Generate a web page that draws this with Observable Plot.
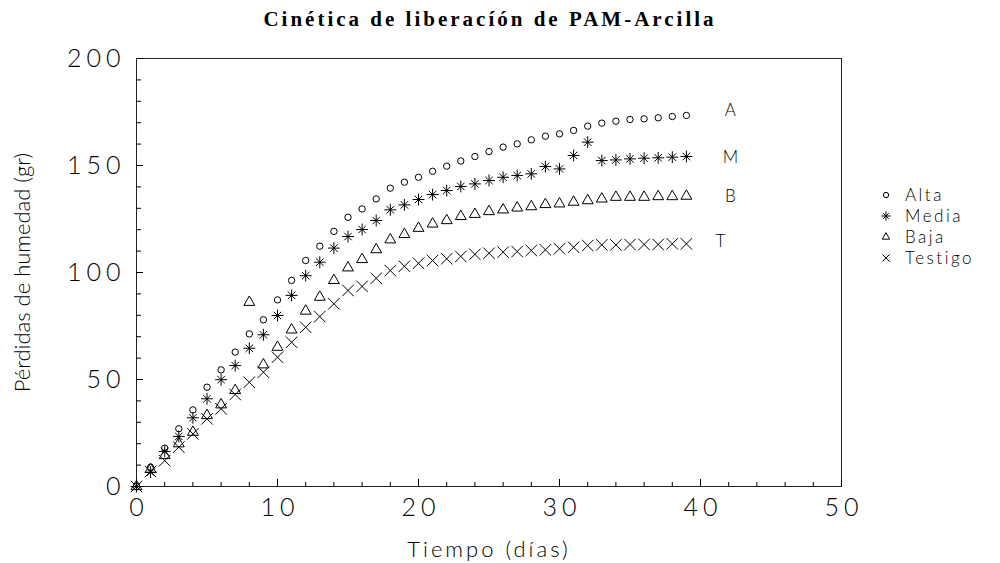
<!DOCTYPE html>
<html>
<head>
<meta charset="utf-8">
<script src="https://cdn.jsdelivr.net/npm/d3@7"></script>
<script src="https://cdn.jsdelivr.net/npm/@observablehq/plot@0.6"></script>
<style>
  body { margin: 0; background: #fff; }
  #wrap { position: relative; width: 1000px; height: 563px; overflow: hidden; }
  #title {
    position: absolute; left: 0; top: 7px; width: 980px; text-align: center;
    font: bold 21px "Liberation Serif", "Times New Roman", serif; letter-spacing: 3px; color: #000;
  }
  #legend { position: absolute; left: 876px; top: 184px; font: 300 17px Lato, sans-serif; letter-spacing: 2.5px; color: #000; }
  #legend .row { display: flex; align-items: center; height: 21px; }
  #legend svg { width: 20px; height: 14px; margin-right: 9px; overflow: visible; }
  .wide text { letter-spacing: 5px; }
  .wide2 text { letter-spacing: 3px; }
</style>
</head>
<body>
<div id="wrap">
  <div id="title"></div>
  <div id="chart"></div>
  <div id="legend"></div>
</div>
<script>
// Days of measurement
const dias = [0,1,2,3,4,5,6,7,8,9,10,11,12,13,14,15,16,17,18,19,
              20,21,22,23,24,25,26,27,28,29,30,31,32,33,34,35,36,37,38,39];

// Cumulative moisture loss (gr) for each PAM dose
const alta = [0,9,17.9,27,35.8,46.4,54.5,62.8,71.3,77.9,
              87.2,96.3,105.6,112.3,119.2,125.8,129.7,134.4,139.4,142.2,
              144.5,147.3,149.7,152.1,154.2,156.5,158.6,160.1,162,163.7,
              164.8,166.4,168.4,169.8,170.7,171.5,171.8,172.3,172.9,173.4];
const media = [0,6.7,16.4,23.4,32.1,41,49.9,56.5,64.6,70.9,
               79.9,89.3,98.5,104.8,111.4,116.8,120.1,124.3,129.3,131.6,
               134.1,136.4,138.3,140.2,141.4,143,144.5,145.3,146.1,149.5,
               148.4,154.7,160.9,152.3,152.6,153.1,153.4,153.6,153.9,154.2];
const baja = [0,8,14.5,20,25.4,33.2,38.2,44.9,86.1,56.9,
              65.1,73.2,82,88.5,96.3,102.2,106.1,110.7,115.3,117.8,
              120.7,122.7,124.3,126.2,127.2,128.5,129.3,130.2,130.8,131.8,
              132.1,132.9,133.6,134.4,135.2,135.2,135.2,135.5,135.5,135.7];
const testigo = [0,7,12.1,18.4,24.6,31.6,36.3,43,48.7,53.4,
                 60.4,67.4,74.4,79.4,85.4,91.6,93.5,97.3,100.9,102.9,
                 104.3,105.6,106.4,107.5,108.5,109,109.5,109.8,110.3,110.6,
                 111.1,111.8,112.6,112.9,112.9,113.1,113.1,113.1,113.4,113.4];

const series = ["Alta", "Media", "Baja", "Testigo"];
const seriesTags = ["A", "M", "B", "T"];

const xTicks = [0, 10, 20, 30, 40, 50];
const yTicks = [0, 50, 100, 150, 200];

const titulo = "Cinética de liberacíón de PAM-Arcilla";
const etiquetaX = "Tiempo (días)";
const etiquetaY = "Pérdidas de humedad (gr)";

// Table built from the arrays above
const rows = dias.map((d, i) => ({dia: d, alta: alta[i], media: media[i], baja: baja[i], testigo: testigo[i]}));
const last = rows[rows.length - 1];

const axisFont = "Lato, sans-serif";
const ink = "#000";
const dotStyle = {stroke: ink, fill: "none", strokeWidth: 1};
const tagStyle = {fontSize: 17, fontFamily: axisFont, fontWeight: 300, fill: ink};

const chart = Plot.plot({
  width: 1000,
  height: 563,
  marginTop: 58,
  marginLeft: 136,
  marginRight: 159,
  marginBottom: 77,
  x: {domain: [0, 50]},
  y: {domain: [0, 200]},
  style: {background: "#fff", color: ink},
  marks: [
    Plot.frame({stroke: "#222"}),
    // inward ticks: minor and major
    Plot.axisY(d3.range(0, 201, 10), {tickSize: -5, tickFormat: () => "", label: null, stroke: ink}),
    Plot.axisY(yTicks, {tickSize: -7, tickFormat: () => "", label: null, stroke: ink}),
    Plot.axisX(d3.range(0, 51, 2), {tickSize: -4, tickFormat: () => "", label: null, stroke: ink}),
    Plot.axisX(xTicks, {tickSize: -7, tickFormat: () => "", label: null, stroke: ink}),
    // tick labels
    Plot.axisY(yTicks, {tickSize: 0, tickPadding: 11, label: null, fontSize: 25, fontFamily: axisFont, fontWeight: 300, fill: ink, className: "wide"}),
    Plot.axisX(xTicks, {tickSize: 0, tickPadding: 12, label: null, fontSize: 25, fontFamily: axisFont, fontWeight: 300, fill: ink, className: "wide", dx: 2.5}),
    // axis titles
    Plot.text([etiquetaY], {frameAnchor: "left", dx: -114, rotate: -90, textAnchor: "middle", text: d => d, fontSize: 22,
      fontFamily: axisFont, fontWeight: 300, fill: ink}),
    Plot.text([etiquetaX], {frameAnchor: "bottom", dy: 70, text: d => d, fontSize: 22,
      fontFamily: axisFont, fontWeight: 300, fill: ink, className: "wide2"}),
    // series
    Plot.dot(rows, {x: "dia", y: "alta", symbol: "circle", r: 3.2, ...dotStyle}),
    Plot.dot(rows, {x: "dia", y: "media", symbol: "plus", r: 3.9, ...dotStyle}),
    Plot.dot(rows, {x: "dia", y: "media", symbol: "times", r: 3.5, ...dotStyle}),
    Plot.dot(rows, {x: "dia", y: "baja", symbol: "triangle2", r: 5.2, ...dotStyle}),
    Plot.dot(rows, {x: "dia", y: "testigo", symbol: "times", r: 5.3, ...dotStyle}),
    // end-of-series tags
    Plot.text([last], {x: "dia", y: "alta", text: () => seriesTags[0], dx: 44, dy: -5, ...tagStyle}),
    Plot.text([last], {x: "dia", y: "media", text: () => seriesTags[1], dx: 44, dy: 1, ...tagStyle}),
    Plot.text([last], {x: "dia", y: "baja", text: () => seriesTags[2], dx: 44, dy: 0, ...tagStyle}),
    Plot.text([last], {x: "dia", y: "testigo", text: () => seriesTags[3], dx: 34, dy: -2, ...tagStyle})
  ]
});
document.getElementById("chart").appendChild(chart);
document.getElementById("title").textContent = titulo;

// Legend: symbol + name for each series
const legendSymbols = [
  [[d3.symbolCircle, 22]],
  [[d3.symbolPlus, 30], [d3.symbolTimes, 22]],
  [[d3.symbolTriangle2, 40]],
  [[d3.symbolTimes, 36]]
];
const legend = d3.select("#legend");
series.forEach((name, i) => {
  const row = legend.append("div").attr("class", "row");
  const svg = row.append("svg");
  legendSymbols[i].forEach(([type, size]) => {
    svg.append("path")
      .attr("transform", "translate(10,7)")
      .attr("d", d3.symbol(type, size)())
      .attr("fill", "none").attr("stroke", ink).attr("stroke-width", 1);
  });
  row.append("span").text(name);
});
</script>
</body>
</html>
